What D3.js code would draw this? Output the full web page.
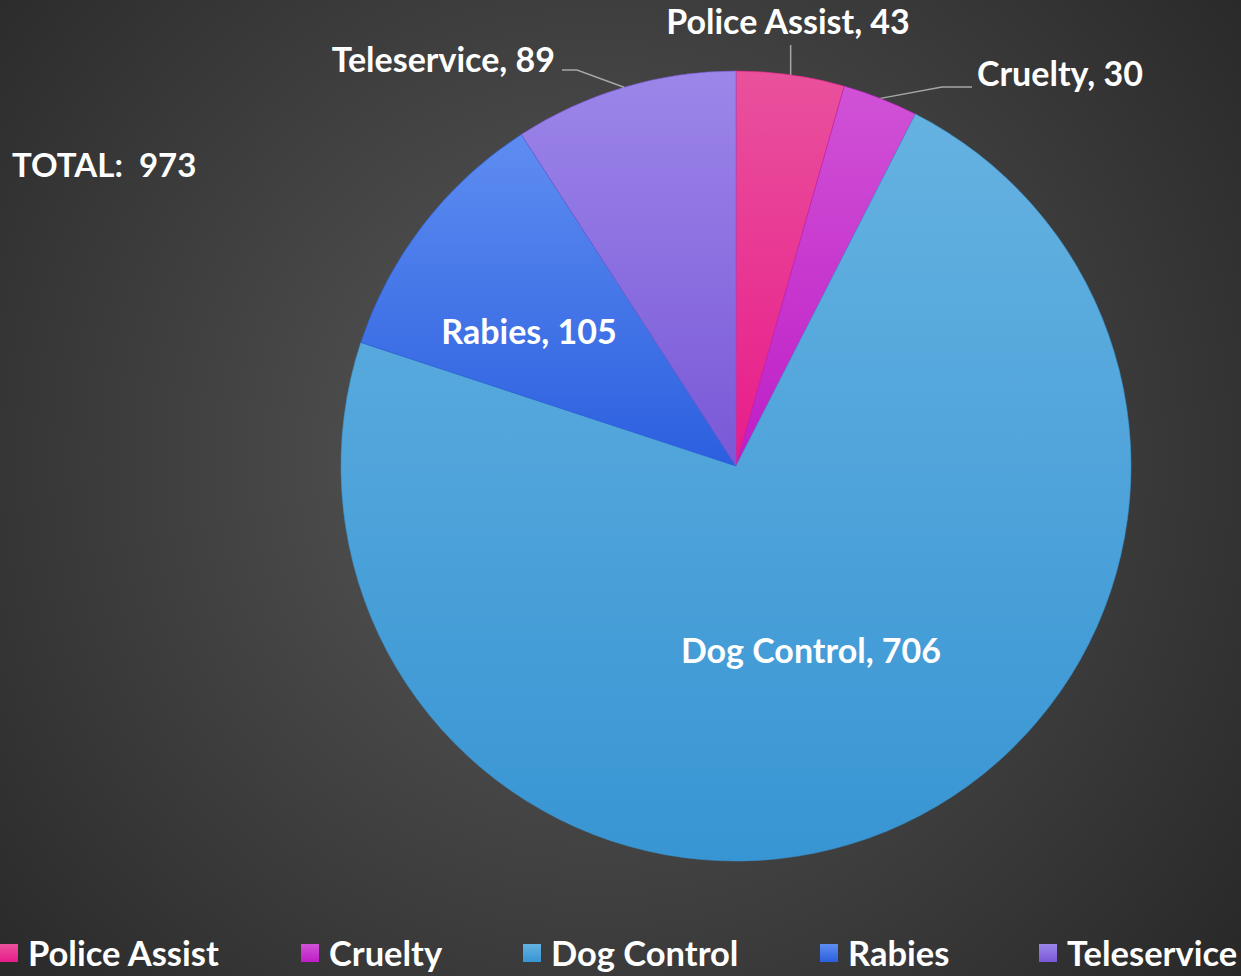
<!DOCTYPE html>
<html><head><meta charset="utf-8">
<script src="https://cdn.jsdelivr.net/npm/d3@7"></script>
<style>html,body{margin:0;padding:0;background:#333;}svg{display:block;}</style>
</head><body>
<script>
const categories = ["Police Assist", "Cruelty", "Dog Control", "Rabies", "Teleservice"];
const values = [43, 30, 706, 105, 89];
const totalLabel = "TOTAL:  973";
const colorsTop = ["#E9519C", "#D052D6", "#65B2E1", "#5E8DF1", "#9C86E9"];
const colorsBottom = ["#E81C8A", "#BE1EC6", "#3895D3", "#2C5FDF", "#7A58D7"];

const W = 1241, H = 976;
const FONT = "Lato, 'Open Sans', sans-serif";
const svg = d3.select("body").append("svg").attr("width", W).attr("height", H);
const defs = svg.append("defs");
const bg = defs.append("radialGradient").attr("id", "bg").attr("gradientUnits", "userSpaceOnUse")
  .attr("cx", 600).attr("cy", 460).attr("r", 820);
bg.append("stop").attr("offset", "0").attr("stop-color", "#5a5a5a");
bg.append("stop").attr("offset", "1").attr("stop-color", "#282828");
svg.append("rect").attr("width", W).attr("height", H).attr("fill", "url(#bg)");

categories.forEach((c, i) => {
  const g = defs.append("linearGradient").attr("id", "g" + i).attr("x1", 0).attr("y1", 0).attr("x2", 0).attr("y2", 1);
  g.append("stop").attr("offset", 0).attr("stop-color", colorsTop[i]);
  g.append("stop").attr("offset", 1).attr("stop-color", colorsBottom[i]);
});

const cx = 736, cy = 466, R = 395;
const data = categories.map((c, i) => ({cat: c, value: values[i], i}));
const pie = d3.pie().value(d => d.value).sort(null);
const arcs = pie(data);
const arc = d3.arc().innerRadius(0).outerRadius(R);
const gp = svg.append("g").attr("transform", `translate(${cx},${cy})`);
gp.selectAll("path").data(arcs).enter().append("path")
  .attr("d", arc).attr("fill", d => `url(#g${d.data.i})`)
  .attr("stroke", d => colorsBottom[d.data.i]).attr("stroke-width", 0.6);

// leader lines
const lineColor = "#a6a6a6";
function pt(angle, r) { return [Math.sin(angle) * r, -Math.cos(angle) * r]; }
const lines = gp.append("g").attr("fill", "none").attr("stroke", lineColor).attr("stroke-width", 1.5);
{
  const a = arcs[0]; const m = (a.startAngle + a.endAngle) / 2; const p = pt(m, R);
  lines.append("path").attr("d", d3.line()([p, [p[0], 45 - cy]]));
}
{
  const a = arcs[1]; const m = (a.startAngle + a.endAngle) / 2; const p = pt(m, R);
  lines.append("path").attr("d", d3.line()([p, [942 - cx, 87 - cy], [972 - cx, 87 - cy]]));
}
{
  const a = arcs[4]; const m = (a.startAngle + a.endAngle) / 2; const p = pt(m, R);
  lines.append("path").attr("d", d3.line()([p, [577 - cx, 70 - cy], [562 - cx, 70 - cy]]));
}

const labelStyle = (s, size) => s.attr("font-family", FONT).attr("font-weight", "bold").attr("fill", "#fff")
  .attr("font-size", size).attr("dominant-baseline", "central");
const labels = [
  {i: 0, x: 788, y: 20, anchor: "middle"},
  {i: 1, x: 977, y: 72, anchor: "start"},
  {i: 2, x: 811, y: 649, anchor: "middle"},
  {i: 3, x: 529, y: 330, anchor: "middle"},
  {i: 4, x: 555, y: 58, anchor: "end"}
];
labels.forEach(l => {
  svg.append("text").call(labelStyle, 34).attr("x", l.x).attr("y", l.y).attr("text-anchor", l.anchor)
    .text(`${categories[l.i]}, ${values[l.i]}`);
});

svg.append("text").call(labelStyle, 33).attr("x", 12).attr("y", 164).attr("text-anchor", "start")
  .attr("xml:space", "preserve").text(totalLabel);

// legend
const legendX = [0, 301, 523, 820, 1039];
const lg = svg.append("g");
categories.forEach((c, i) => {
  const g = lg.append("g").attr("transform", `translate(${legendX[i]},953)`);
  g.append("rect").attr("x", 0).attr("y", -9).attr("width", 18).attr("height", 18).attr("fill", `url(#g${i})`);
  g.append("text").call(labelStyle, 34.5).attr("x", 28).attr("y", -1).text(c);
});
</script>
</body></html>
